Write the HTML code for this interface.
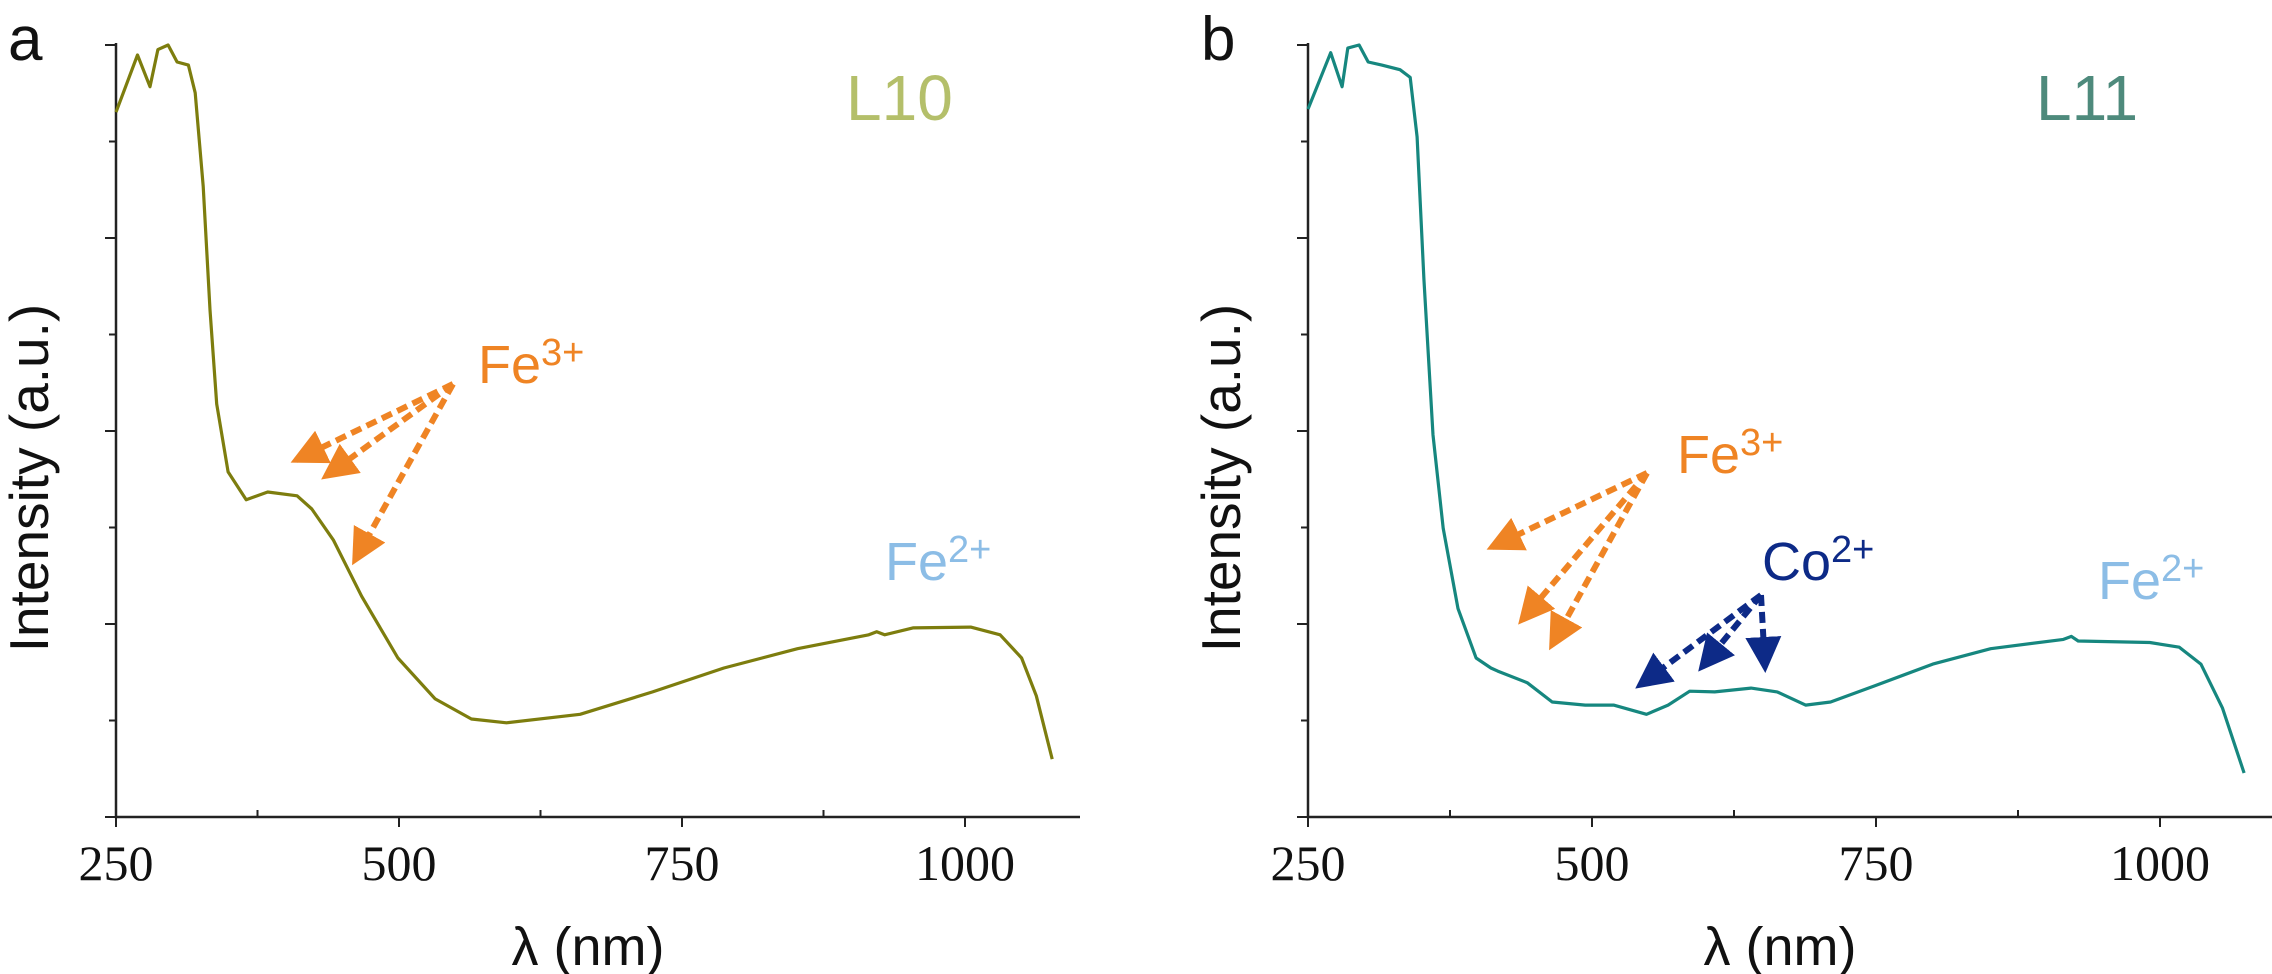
<!DOCTYPE html>
<html><head><meta charset="utf-8"><style>
html,body{margin:0;padding:0;background:#fff;}
svg{display:block;}
text{font-family:"Liberation Sans",Arial,sans-serif;}
.tick{font-family:"Liberation Serif","Times New Roman",serif;font-size:50px;fill:#111;}
</style></head><body>
<svg id="chart" width="2272" height="974" viewBox="0 0 2272 974" xmlns="http://www.w3.org/2000/svg">
<defs>
<marker id="hOr" markerWidth="6" markerHeight="6" refX="5" refY="3" orient="auto" markerUnits="strokeWidth"><path d="M0,0 L6,3 L0,6 Z" fill="#ef8424"/></marker>
<marker id="hNv" markerWidth="6" markerHeight="6" refX="5" refY="3" orient="auto" markerUnits="strokeWidth"><path d="M0,0 L6,3 L0,6 Z" fill="#0d2a87"/></marker>
</defs>
<g id="panelA"></g>
<g id="panelB"></g>
</svg>
<script>
const xTickLabels = ["250","500","750","1000"];
const xTickValues = [250,500,750,1000];
const lambdaA = [250,269,280,287,296,304,314,320,327,333,339,349,365,384,410,423,442,467,499,532,564,595,660,724,787,852,915,922,929,954,1005,1031,1050,1063,1077];
const intensityA = [0.913,0.987,0.946,0.994,1.0,0.978,0.974,0.938,0.817,0.657,0.535,0.447,0.411,0.421,0.416,0.399,0.359,0.286,0.206,0.153,0.127,0.122,0.133,0.162,0.193,0.218,0.236,0.240,0.236,0.245,0.246,0.236,0.206,0.157,0.075];
const lambdaB = [250,270,280,285,295,303,315,331,340,346,352,360,369,382,398,411,417,443,465,494,519,548,567,586,608,640,663,688,710,749,800,851,915,922,928,991,1017,1036,1055,1074];
const intensityB = [0.917,0.990,0.946,0.996,1.0,0.978,0.974,0.968,0.958,0.881,0.697,0.495,0.374,0.270,0.206,0.193,0.189,0.174,0.149,0.145,0.145,0.133,0.145,0.163,0.162,0.167,0.162,0.145,0.149,0.170,0.198,0.218,0.230,0.234,0.228,0.226,0.220,0.198,0.141,0.057];

const NS="http://www.w3.org/2000/svg";
function mk(tag,attrs,parent){const e=document.createElementNS(NS,tag);for(const k in attrs)e.setAttribute(k,attrs[k]);parent.appendChild(e);return e;}

function drawPanel(g,cfg){
  const x0=cfg.x0, pxPer=cfg.pxPer, yTop=45, yBot=817;
  const X=l=>x0+(l-250)*pxPer;
  const Y=v=>yBot-v*(yBot-yTop);
  const ax=mk('path',{d:`M${x0},${yTop-2} L${x0},${yBot} L${cfg.xEnd},${yBot}`,fill:'none',stroke:'#222','stroke-width':2.5},g);
  
  
  for(let i=0;i<9;i++){
    const y=yTop+i*(yBot-yTop)/8;
    const len=(i%2==0)?11:7;
    const t=mk('line',{x1:x0-len,y1:y,x2:x0,y2:y,stroke:'#222','stroke-width':2},g);
    
    
  }
  xTickValues.forEach((v,i)=>{
    const t=mk('line',{x1:X(v),y1:yBot,x2:X(v),y2:yBot+10,stroke:'#222','stroke-width':2},g);
    
    
    if(X(v+125)<cfg.xEnd){
      const m=mk('line',{x1:X(v+125),y1:yBot-7,x2:X(v+125),y2:yBot,stroke:'#222','stroke-width':2},g);
      
      
    }
    const tx=mk('text',{x:X(v),y:880,'text-anchor':'middle',class:'tick'},g);
    tx.textContent=xTickLabels[i];
    
    
  });
  const d=cfg.lam.map((l,i)=>(i?'L':'M')+X(l).toFixed(1)+','+Y(cfg.val[i]).toFixed(1)).join(' ');
  const p=mk('path',{d:d,fill:'none',stroke:cfg.color,'stroke-width':3.2,'stroke-linejoin':'round'},g);
  
  
  const xt=mk('text',{x:x0+(cfg.xEnd-x0)/2-10,y:965,'text-anchor':'middle','font-size':54,fill:'#111'},g);
  xt.textContent='λ (nm)';
  
  
  const yt=mk('text',{x:0,y:0,'text-anchor':'middle','font-size':55,fill:'#111',transform:`translate(${cfg.ytx},478) rotate(-90)`},g);
  yt.textContent='Intensity (a.u.)';
  
  
  const pl=mk('text',{x:cfg.plx,y:60,'font-size':62,fill:'#111'},g);
  pl.textContent=cfg.panel;
  
  
  const sl=mk('text',{x:cfg.slx,y:120,'font-size':64,fill:cfg.sampleColor},g);
  sl.textContent=cfg.sample;
  
  
}

function ion(g,x,y,base,sup,color,name){
  const t=mk('text',{x:x,y:y,'font-size':54,fill:color},g);
  
  
  t.appendChild(document.createTextNode(base));
  const s=mk('tspan',{'font-size':38,dy:-18},t);
  s.textContent=sup;
}
function arrow(g,x1,y1,x2,y2,color,mid,name){
  const a=mk('line',{x1:x1,y1:y1,x2:x2,y2:y2,stroke:color,'stroke-width':6,'stroke-dasharray':'11 6','marker-end':`url(#${mid})`},g);
  
  
}

const gA=document.getElementById('panelA'), gB=document.getElementById('panelB');
drawPanel(gA,{x0:116,pxPer:283/250,xEnd:1080,lam:lambdaA,val:intensityA,color:'#7d7d0e',ytx:48,plx:8,panel:'a',slx:846,sample:'L10',sampleColor:'#b4bf6a'});
drawPanel(gB,{x0:1308,pxPer:284/250,xEnd:2272,lam:lambdaB,val:intensityB,color:'#16877f',ytx:1240,plx:1201,panel:'b',slx:2036,sample:'L11',sampleColor:'#4e8a7c'});

const OR='#ef8424', NV='#0d2a87', LB='#8cbde6';
ion(gA,478,383,'Fe','3+',OR,'fe3-label');
ion(gA,885,580,'Fe','2+',LB,'fe2-label');
arrow(gA,453,384,296,460,OR,'hOr','fe3-arrow');
arrow(gA,453,384,326,476,OR,'hOr','fe3-arrow');
arrow(gA,453,384,355,560,OR,'hOr','fe3-arrow');

ion(gB,1677,473,'Fe','3+',OR,'fe3-label');
ion(gB,1762,580,'Co','2+',NV,'co2-label');
ion(gB,2098,599,'Fe','2+',LB,'fe2-label');
arrow(gB,1647,473,1492,547,OR,'hOr','fe3-arrow');
arrow(gB,1647,473,1522,620,OR,'hOr','fe3-arrow');
arrow(gB,1647,473,1552,645,OR,'hOr','fe3-arrow');
arrow(gB,1761,595,1640,685,NV,'hNv','co2-arrow');
arrow(gB,1761,595,1702,667,NV,'hNv','co2-arrow');
arrow(gB,1761,595,1765,667,NV,'hNv','co2-arrow');
</script>
</body></html>
